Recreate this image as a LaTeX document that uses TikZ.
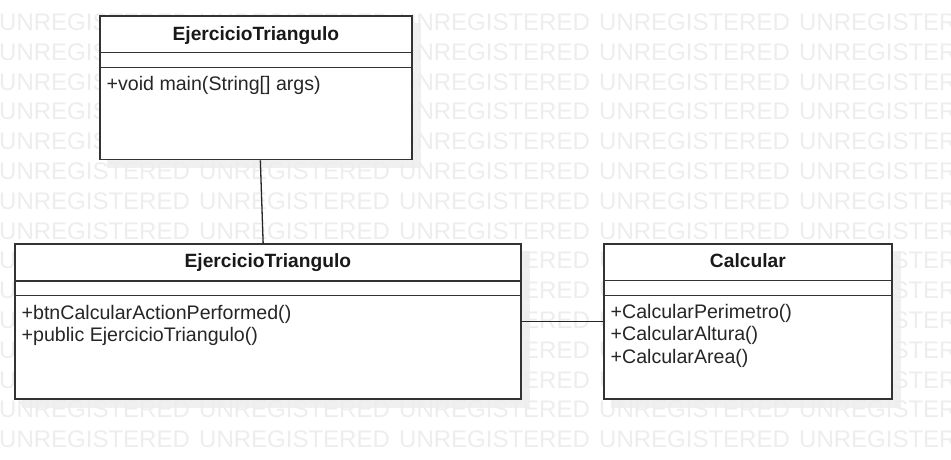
\documentclass[tikz,border=0pt]{standalone}
\usepackage{fontspec}
\setmainfont{Liberation Sans}
\usetikzlibrary{positioning,backgrounds}

\begin{document}
\begin{tikzpicture}[x=1pt,y=-1pt,
  classbox/.style={draw=black!80,line width=1.7pt,fill=white,inner sep=0pt,anchor=north west},
  sepline/.style={draw=black!80,line width=1.3pt},
  classname/.style={font=\fontsize{19.2}{22}\selectfont\bfseries,text=black!90,anchor=base,inner sep=0pt},
  classops/.style={font=\fontsize{19.6}{22.5}\selectfont,text=black!85,align=left,anchor=north west,inner sep=0pt},
  assoc/.style={draw=black!85,line width=1.3pt},
  shadowfill/.style={fill=black!6},
  watermark/.style={font=\fontsize{24}{24}\selectfont,text=black!7,anchor=base west,inner sep=0pt}]
  \useasboundingbox (0,0) rectangle (951,459);

  % Class boxes.
  \node[classbox,minimum width=312pt,minimum height=143.7pt] (main) at (99,15) {};
  \node[classbox,minimum width=506pt,minimum height=155pt] (frame) at (14,243.3) {};
  \node[classbox,minimum width=288pt,minimum height=155pt] (calc) at (603,243.3) {};

  % Compartment lines.
  \foreach \cls/\a/\b in {main/37.3/52.3,frame/37.7/52.4,calc/37.4/52.4} {
    \draw[sepline] ([yshift=-\a pt]\cls.north west) -- ([yshift=-\a pt]\cls.north east);
    \draw[sepline] ([yshift=-\b pt]\cls.north west) -- ([yshift=-\b pt]\cls.north east);
  }

  % Names and operations.
  \node[classname] (mainName) at ([yshift=-25pt]main.north) {EjercicioTriangulo};
  \node[classops] (mainOps) at ([xshift=7.5pt,yshift=-61pt]main.north west)
    {+void main(String[] args)};

  \node[classname] (frameName) at ([yshift=-24.5pt]frame.north) {EjercicioTriangulo};
  \node[classops] (frameOps) at ([xshift=7.5pt,yshift=-61.5pt]frame.north west)
    {+btnCalcularActionPerformed()\\+public EjercicioTriangulo()};

  \node[classname] (calcName) at ([yshift=-24pt]calc.north) {Calcular};
  \node[classops] (calcOps) at ([xshift=7.5pt,yshift=-60.5pt]calc.north west)
    {+CalcularPerimetro()\\+CalcularAltura()\\+CalcularArea()};

  % Associations.
  \draw[assoc] ([xshift=4.5pt]main.south) -- ([xshift=-4.7pt]frame.north);
  \draw[assoc] (frame.east) -- (calc.west);

  % Shadows and watermark behind the boxes.
  \begin{scope}[on background layer]
    \foreach \cls in {main,frame,calc}
      \fill[shadowfill] ([xshift=8pt,yshift=-8pt]\cls.north west) rectangle ([xshift=8pt,yshift=-8pt]\cls.south east);
    \foreach \r in {0,...,14}
      \foreach \c in {0,...,4}
        \node[watermark] (wm\r-\c) at (200*\c-1,30.5+29.8*\r) {UNREGISTERED};
  \end{scope}
\end{tikzpicture}
\end{document}
